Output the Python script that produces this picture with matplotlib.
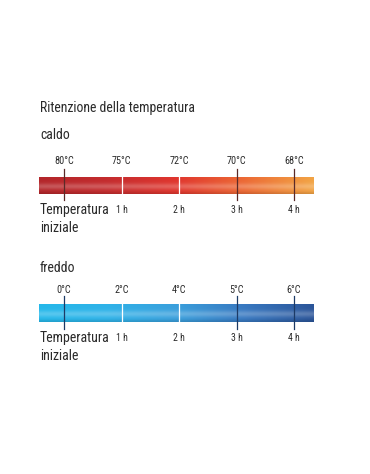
import numpy as np
import matplotlib.pyplot as plt
from matplotlib.colors import LinearSegmentedColormap

plt.rcParams['font.family'] = ['Roboto Condensed', 'Liberation Sans Narrow', 'Roboto', 'DejaVu Sans']

# Data
hours = [0, 1, 2, 3, 4]
hour_labels = ["Temperatura", "1 h", "2 h", "3 h", "4 h"]
caldo_temps = [80, 75, 72, 70, 68]
freddo_temps = [0, 2, 4, 5, 6]

caldo_colors = ["#b3262a", "#c42c2e", "#e0362e", "#ec6a35", "#f2a445"]
freddo_colors = ["#25b8ea", "#2fb2e8", "#3a9fdc", "#3878c0", "#2b5599"]

# Canvas: x in hours, y in pixels (top down)
W, H = 370, 474
fig = plt.figure(figsize=(W / 100, H / 100), dpi=100)
ax = fig.add_axes([0, 0, 1, 1])
px_per_h = 57.5
x0 = 64
ax.set_xlim(-x0 / px_per_h, (W - x0) / px_per_h)
ax.set_ylim(H, 0)
ax.axis("off")

bar_left = hours[0] - 25 / px_per_h
bar_right = hours[-1] + 20 / px_per_h
xl = (40 - x0) / px_per_h
txt = "#2a2a2a"


def draw_bar(y_top, y_bot, colors, tick_top, tick_bot, tick_dark):
    cmap = LinearSegmentedColormap.from_list("g", colors)
    nx, ny = 300, 40
    rgb = cmap(np.linspace(0, 1, nx))[:, :3]
    # vertical shine: lighter band slightly below middle, darker bottom edge
    t = np.linspace(0, 1, ny)
    shine = 0.22 * np.exp(-((t - 0.55) / 0.18) ** 2)
    img = rgb[None, :, :] + shine[:, None, None] * (1 - rgb[None, :, :])
    img = img - 0.12 * np.exp(-((t - 1.0) / 0.12) ** 2)[:, None, None] * rgb[None, :, :]
    img = np.clip(img, 0, 1)
    ax.imshow(img, extent=[bar_left, bar_right, y_bot, y_top], aspect="auto",
              interpolation="bilinear", zorder=1)
    for h in hours:
        c = "white" if h in (1, 2) else tick_dark
        ax.plot([h, h], [tick_top, tick_bot], color=c, lw=0.9, zorder=2)


def draw_labels(temps, y_temp, y_hour):
    for h, t in zip(hours, temps):
        ax.text(h, y_temp, f"{t}°C", ha="center", va="center", fontsize=7.3, color=txt)
    for h, lab in zip(hours[1:], hour_labels[1:]):
        ax.text(h, y_hour, lab, ha="center", va="center", fontsize=7, color=txt)
    ax.text(xl, y_hour, hour_labels[0], ha="left", va="center", fontsize=10, color=txt)
    ax.text(xl, y_hour + 18, "iniziale", ha="left", va="center", fontsize=10, color=txt)


ax.text(xl, 108, "Ritenzione della temperatura", ha="left", va="center", fontsize=9.9, color=txt)

# caldo
ax.text(xl, 135, "caldo", ha="left", va="center", fontsize=9.9, color=txt)
draw_bar(177, 194, caldo_colors, 169, 200, "#5a2a28")
draw_labels(caldo_temps, 161, 210)

# freddo
ax.text(xl, 268, "freddo", ha="left", va="center", fontsize=9.9, color=txt)
draw_bar(304, 322, freddo_colors, 296, 329, "#1c3a66")
draw_labels(freddo_temps, 290, 338)

fig.savefig("out.png", dpi=100)
